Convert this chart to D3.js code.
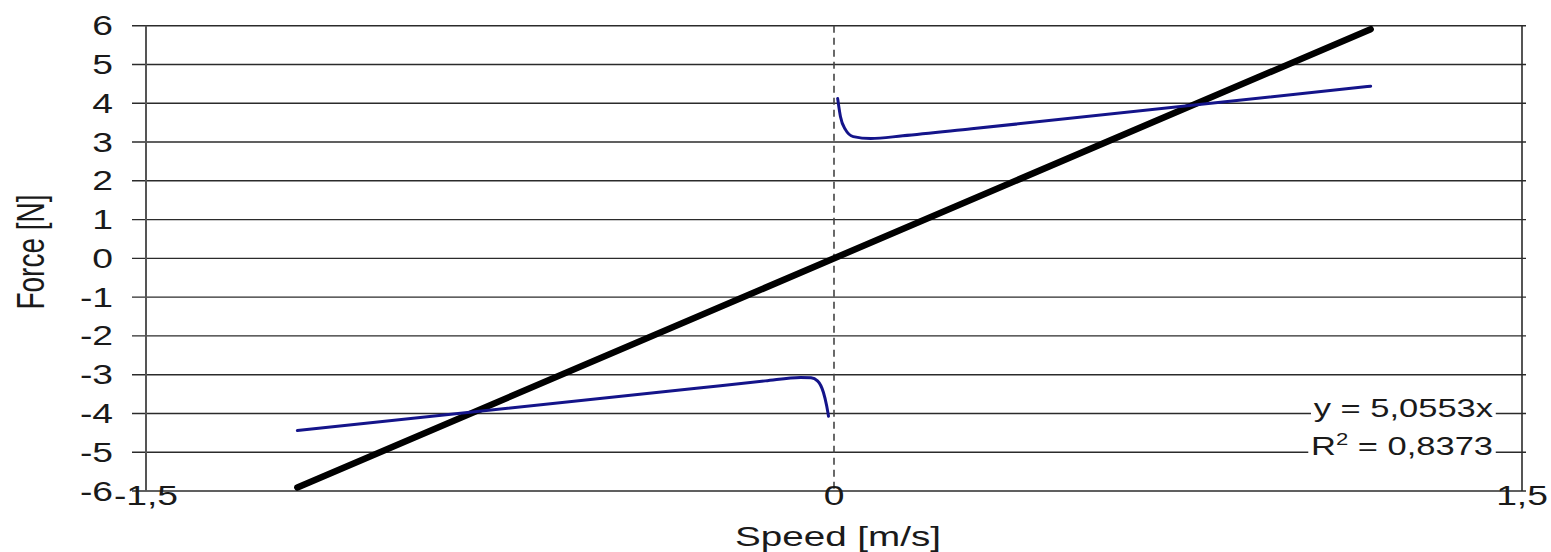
<!DOCTYPE html>
<html>
<head>
<meta charset="utf-8">
<script src="https://cdn.jsdelivr.net/npm/d3@7"></script>
<style>
  body { margin: 0; background: #fff; }
  text { font-family: "Liberation Sans", Arial, sans-serif; fill: #1a1a1a; }
</style>
</head>
<body>
<div id="chart"></div>
<script>
// axis ticks
const xTicks = [-1.5, 0, 1.5];
const xTickLabels = ['-1,5', '0', '1,5'];
const yTicks = [-6, -5, -4, -3, -2, -1, 0, 1, 2, 3, 4, 5, 6];

// trend line (y = 5,0553x), end points
const trendSpeed = [-1.17, 1.17];
const trendForce = [-5.91, 5.91];

// measured friction force, negative speed branch
const negSpeed = [-1.17, -0.3, -0.15, -0.073, -0.05, -0.036, -0.023, -0.016, -0.012];
const negForce = [-4.44, -3.35, -3.16, -3.07, -3.08, -3.16, -3.46, -3.8, -4.07];

// measured friction force, positive speed branch
const posSpeed = [0.008, 0.014, 0.025, 0.042, 0.08, 0.15, 0.3, 1.17];
const posForce = [4.12, 3.66, 3.32, 3.14, 3.09, 3.16, 3.34, 4.44];

const eqLines = ['y = 5,0553x', 'R|2| = 0,8373'];

const width = 1551, height = 552;
const margin = { top: 25.7, right: 29, bottom: 61, left: 146 };
const SX = 1.38; // the original picture is stretched sideways

const svg = d3.select('#chart').append('svg').attr('width', width).attr('height', height);

const x = d3.scaleLinear().domain([-1.5, 1.5]).range([margin.left, width - margin.right]);
const y = d3.scaleLinear().domain([-6, 6]).range([height - margin.bottom, margin.top]);

const stretchText = (px, py, str, size, anchor) => svg.append('text')
  .attr('transform', `translate(${px},${py}) scale(${SX},1)`)
  .attr('text-anchor', anchor)
  .style('font-size', size + 'px')
  .text(str);

// horizontal grid lines (cross the axis a bit on both sides)
svg.append('g').selectAll('line').data(yTicks).enter().append('line')
  .attr('x1', margin.left - 14).attr('x2', width - margin.right + 4)
  .attr('y1', (d) => y(d)).attr('y2', (d) => y(d))
  .attr('stroke', '#2b2b2b').attr('stroke-width', 1.4);

// left axis and right frame
svg.append('line').attr('x1', x(-1.5)).attr('x2', x(-1.5)).attr('y1', y(6)).attr('y2', y(-6))
  .attr('stroke', '#555').attr('stroke-width', 2);
svg.append('line').attr('x1', x(1.5)).attr('x2', x(1.5)).attr('y1', y(6)).attr('y2', y(-6))
  .attr('stroke', '#2b2b2b').attr('stroke-width', 1.6);

// dashed zero line
svg.append('line').attr('x1', x(0)).attr('x2', x(0)).attr('y1', y(6)).attr('y2', y(-6))
  .attr('stroke', '#444').attr('stroke-width', 1.6).attr('stroke-dasharray', '7,5');

// y tick labels
yTicks.forEach((d) => {
  stretchText(113, y(d) + 9.5, d, 27, 'end');
});

// x tick labels
xTicks.forEach((d, i) => {
  stretchText(x(d), 505, xTickLabels[i], 27, 'middle');
});

// axis titles
stretchText(838, 546, 'Speed [m/s]', 28, 'middle');
svg.append('text')
  .attr('transform', `translate(44,252) rotate(-90) scale(1,${SX})`)
  .attr('text-anchor', 'middle')
  .style('font-size', '28px')
  .text('Force [N]');

const line = d3.line().x((d) => x(d[0])).y((d) => y(d[1])).curve(d3.curveMonotoneX);

// trend line
svg.append('path')
  .attr('d', line(d3.zip(trendSpeed, trendForce)))
  .attr('fill', 'none').attr('stroke', '#000').attr('stroke-width', 6.5).attr('stroke-linecap', 'round');

// measured branches
[[negSpeed, negForce], [posSpeed, posForce]].forEach(([s, f]) => {
  svg.append('path')
    .attr('d', line(d3.zip(s, f)))
    .attr('fill', 'none').attr('stroke', '#14148a').attr('stroke-width', 3).attr('stroke-linecap', 'round');
});

// equation label with white box
const eqBaselines = [417, 455];
eqLines.forEach((str, i) => {
  const g = svg.append('g').attr('transform', `translate(1493,${eqBaselines[i]}) scale(${SX},1)`);
  const t = g.append('text').attr('text-anchor', 'end').style('font-size', '25px');
  const parts = str.split('|');
  t.append('tspan').text(parts[0]);
  if (parts.length > 1) {
    t.append('tspan').attr('dy', -10).style('font-size', '16px').text(parts[1]);
    t.append('tspan').attr('dy', 10).text(parts[2]);
  }
  const bb = t.node().getBBox();
  g.insert('rect', 'text')
    .attr('x', bb.x - 2).attr('y', bb.y + 2).attr('width', bb.width + 4).attr('height', bb.height - 4)
    .attr('fill', '#fff');
});
</script>
</body>
</html>
